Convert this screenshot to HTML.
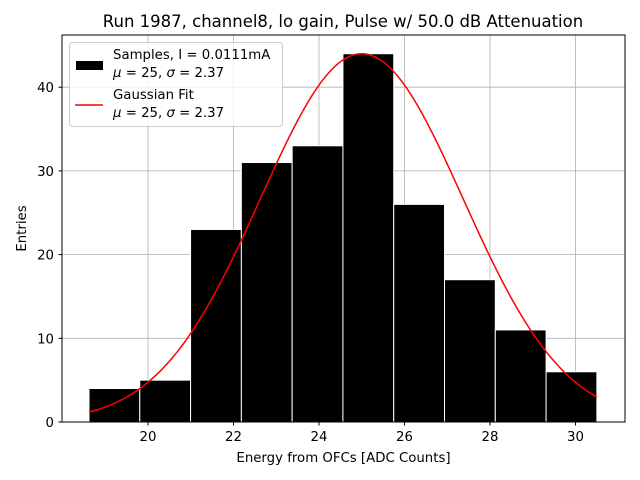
<!DOCTYPE html>
<html><head><meta charset="utf-8"><style>
body{margin:0;background:#fff;}
svg{display:block;font-family:"DejaVu Sans","Liberation Sans",sans-serif;}
</style></head><body>
<svg id="chart" width="640" height="480" xmlns="http://www.w3.org/2000/svg">
<text x="343" y="27" font-size="16.5" text-anchor="middle">Run 1987, channel8, lo gain, Pulse w/ 50.0 dB Attenuation</text>
<g id="grid"></g>
<g id="bars"></g>
<path id="fit" fill="none" stroke="#ff0000" stroke-width="1.5"/>
<rect x="62" y="35" width="563" height="387" fill="none" stroke="#000" stroke-width="1"/>
<g id="ticks" font-size="13.3"></g>
<text x="343.5" y="462" font-size="13.3" text-anchor="middle">Energy from OFCs [ADC Counts]</text>
<text x="0" y="0" font-size="13.3" text-anchor="middle" transform="translate(26,228.5) rotate(-90)">Entries</text>
<g font-size="13.3">
<rect x="69.5" y="42.5" width="213" height="84" rx="3" fill="#fff" fill-opacity="0.8" stroke="#ccc"/>
<rect x="76" y="61" width="27" height="9" fill="#000"/>
<text x="113" y="59">Samples, I = 0.0111mA</text>
<text x="113" y="77"><tspan font-style="italic">μ</tspan> = 25, <tspan font-style="italic">σ</tspan> = 2.37</text>
<line x1="75" y1="105" x2="103" y2="105" stroke="#ff0000" stroke-width="1.5"/>
<text x="113" y="99">Gaussian Fit</text>
<text x="113" y="117"><tspan font-style="italic">μ</tspan> = 25, <tspan font-style="italic">σ</tspan> = 2.37</text>
</g>
</svg>
<script>
const binStart = 18.62;
const binWidth = 1.188;
const counts = [4, 5, 23, 31, 33, 44, 26, 17, 11, 6];
const xTicks = [20, 22, 24, 26, 28, 30];
const yTicks = [0, 10, 20, 30, 40];
const fitMu = 25, fitSigma = 2.37, fitAmp = 44;

const NS = "http://www.w3.org/2000/svg";
const X = v => 148 + (v - 20) * 42.75;
const Y = v => 422 - v * 8.37;
function mk(tag, attrs, parent) {
  const e = document.createElementNS(NS, tag);
  for (const k in attrs) e.setAttribute(k, attrs[k]);
  parent.appendChild(e); return e;
}
const grid = document.getElementById('grid'), bars = document.getElementById('bars'), ticks = document.getElementById('ticks');
xTicks.forEach(t => {
  const g = mk('line', {x1: X(t), x2: X(t), y1: 35, y2: 422, stroke: '#b0b0b0', 'stroke-width': 0.8}, grid);
  
  
  const tk = mk('line', {x1: X(t), x2: X(t), y1: 422, y2: 425.5, stroke: '#000'}, ticks);
  
  
  const tx = mk('text', {x: X(t), y: 441, 'text-anchor': 'middle'}, ticks);
  tx.textContent = t;
  
  
});
yTicks.forEach(t => {
  const g = mk('line', {x1: 62, x2: 625, y1: Y(t), y2: Y(t), stroke: '#b0b0b0', 'stroke-width': 0.8}, grid);
  
  
  const tk = mk('line', {x1: 58.5, x2: 62, y1: Y(t), y2: Y(t), stroke: '#000'}, ticks);
  
  
  const tx = mk('text', {x: 54, y: Y(t) + 5, 'text-anchor': 'end'}, ticks);
  tx.textContent = t;
  
  
});
counts.forEach((c, i) => {
  const x0 = X(binStart + i * binWidth), x1 = X(binStart + (i + 1) * binWidth);
  const r = mk('rect', {x: x0, y: Y(c), width: x1 - x0, height: Y(0) - Y(c), fill: '#000', stroke: '#fff', 'stroke-width': 1}, bars);
  
  
});
let d = '';
const xEnd = binStart + counts.length * binWidth;
for (let k = 0; k <= 200; k++) {
  const v = binStart + (xEnd - binStart) * k / 200;
  const yv = fitAmp * Math.exp(-((v - fitMu) ** 2) / (2 * fitSigma * fitSigma));
  d += (k ? 'L' : 'M') + X(v).toFixed(2) + ',' + Y(yv).toFixed(2);
}
document.getElementById('fit').setAttribute('d', d);
</script>
</body></html>
